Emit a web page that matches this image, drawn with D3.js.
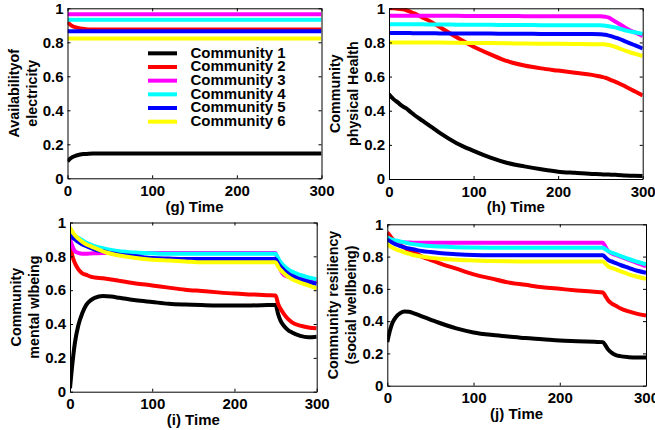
<!DOCTYPE html>
<html><head><meta charset="utf-8">
<script src="https://cdn.jsdelivr.net/npm/d3@7"></script>
<style>
html,body{margin:0;padding:0;background:#fff;}
svg{display:block;}
text{font-family:"Liberation Sans",Arial,sans-serif;font-weight:bold;fill:#000;}
</style></head>
<body>
<script>
// ---- data ----
const time = [0,3,6,10,15,20,25,30,40,50,60,80,100,120,140,160,180,200,220,240,250,253,256,260,265,270,280,290,300];
const communities = ["Community 1","Community 2","Community 3","Community 4","Community 5","Community 6"];
const colors = ["#000000","#ff0000","#ff00ff","#00ffff","#0000ff","#ffff00"];
const xTicks = [0,100,200,300];
const yTicks = [0,0.2,0.4,0.6,0.8,1];
const yTickLabels = ["0","0.2","0.4","0.6","0.8","1"];

// (g) availability of electricity
const elecC1 = [0.10,0.115,0.125,0.133,0.14,0.143,0.145,0.146,0.146,0.146,0.146,0.146,0.146,0.146,0.146,0.146,0.146,0.146,0.146,0.146,0.146,0.146,0.146,0.146,0.146,0.146,0.146,0.146,0.146];
const elecC2 = [0.92,0.905,0.895,0.888,0.882,0.878,0.876,0.875,0.875,0.875,0.875,0.875,0.875,0.875,0.875,0.875,0.875,0.875,0.875,0.875,0.875,0.875,0.875,0.875,0.875,0.875,0.875,0.875,0.875];
const elecC3 = [0.965,0.965,0.965,0.965,0.965,0.965,0.965,0.965,0.965,0.965,0.965,0.965,0.965,0.965,0.965,0.965,0.965,0.965,0.965,0.965,0.965,0.965,0.965,0.965,0.965,0.965,0.965,0.965,0.965];
const elecC4 = [0.933,0.933,0.933,0.933,0.933,0.933,0.933,0.933,0.933,0.933,0.933,0.933,0.933,0.933,0.933,0.933,0.933,0.933,0.933,0.933,0.933,0.933,0.933,0.933,0.933,0.933,0.933,0.933,0.933];
const elecC5 = [0.865,0.865,0.865,0.865,0.865,0.865,0.865,0.865,0.865,0.865,0.865,0.865,0.865,0.865,0.865,0.865,0.865,0.865,0.865,0.865,0.865,0.865,0.865,0.865,0.865,0.865,0.865,0.865,0.865];
const elecC6 = [0.822,0.822,0.822,0.822,0.822,0.822,0.822,0.822,0.822,0.822,0.822,0.822,0.822,0.822,0.822,0.822,0.822,0.822,0.822,0.822,0.822,0.822,0.822,0.822,0.822,0.822,0.822,0.822,0.822];

// (h) community physical health
const physC1 = [0.497,0.48,0.465,0.45,0.43,0.415,0.395,0.375,0.34,0.305,0.27,0.21,0.165,0.125,0.094,0.074,0.057,0.043,0.036,0.030,0.028,0.027,0.027,0.026,0.025,0.024,0.021,0.019,0.018];
const physC2 = [1.0,1.0,1.0,0.998,0.995,0.99,0.98,0.97,0.945,0.92,0.89,0.83,0.775,0.73,0.69,0.665,0.648,0.635,0.622,0.61,0.60,0.597,0.593,0.585,0.575,0.565,0.54,0.515,0.49];
const physC3 = [0.957,0.957,0.957,0.957,0.957,0.957,0.957,0.957,0.956,0.956,0.956,0.956,0.955,0.955,0.955,0.954,0.953,0.953,0.953,0.953,0.953,0.952,0.95,0.945,0.93,0.915,0.885,0.86,0.838];
const physC4 = [0.907,0.907,0.907,0.907,0.907,0.907,0.906,0.906,0.906,0.905,0.905,0.904,0.903,0.903,0.902,0.902,0.901,0.901,0.9,0.9,0.9,0.899,0.898,0.895,0.89,0.885,0.87,0.86,0.85];
const physC5 = [0.855,0.855,0.855,0.855,0.855,0.855,0.855,0.854,0.854,0.854,0.853,0.853,0.852,0.852,0.851,0.851,0.85,0.85,0.849,0.849,0.848,0.847,0.845,0.84,0.833,0.825,0.805,0.785,0.765];
const physC6 = [0.80,0.80,0.80,0.80,0.80,0.80,0.80,0.80,0.80,0.799,0.799,0.798,0.797,0.796,0.795,0.794,0.793,0.792,0.791,0.79,0.79,0.789,0.788,0.785,0.778,0.77,0.75,0.735,0.72];

// (i) community mental wellbeing
const mentC1 = [0.02,0.17,0.29,0.39,0.465,0.515,0.54,0.555,0.565,0.562,0.555,0.54,0.53,0.52,0.515,0.512,0.51,0.51,0.51,0.512,0.513,0.46,0.42,0.39,0.365,0.35,0.33,0.322,0.325];
const mentC2 = [0.88,0.80,0.76,0.725,0.70,0.69,0.68,0.675,0.67,0.663,0.655,0.64,0.628,0.615,0.603,0.595,0.587,0.58,0.575,0.57,0.568,0.52,0.49,0.46,0.43,0.41,0.39,0.38,0.375];
const mentC3 = [0.90,0.86,0.83,0.82,0.815,0.815,0.817,0.818,0.82,0.82,0.82,0.82,0.82,0.82,0.82,0.82,0.82,0.82,0.82,0.82,0.82,0.76,0.72,0.69,0.68,0.675,0.665,0.655,0.648];
const mentC4 = [0.95,0.93,0.92,0.91,0.895,0.88,0.87,0.86,0.848,0.838,0.83,0.822,0.818,0.815,0.815,0.815,0.815,0.815,0.815,0.815,0.815,0.79,0.765,0.745,0.725,0.71,0.69,0.675,0.665];
const mentC5 = [0.93,0.91,0.90,0.885,0.87,0.86,0.85,0.84,0.83,0.818,0.81,0.80,0.79,0.787,0.785,0.785,0.785,0.785,0.785,0.785,0.785,0.76,0.74,0.72,0.70,0.685,0.665,0.65,0.638];
const mentC6 = [0.97,0.945,0.925,0.905,0.885,0.87,0.86,0.85,0.83,0.815,0.805,0.79,0.78,0.775,0.77,0.765,0.765,0.765,0.765,0.765,0.765,0.74,0.72,0.70,0.68,0.665,0.645,0.628,0.61];

// (j) community resiliency (social wellbeing)
const socC1 = [0.27,0.34,0.39,0.425,0.45,0.46,0.458,0.45,0.43,0.41,0.39,0.355,0.33,0.315,0.305,0.295,0.288,0.28,0.276,0.272,0.27,0.25,0.225,0.205,0.19,0.183,0.177,0.175,0.175];
const socC2 = [0.95,0.93,0.91,0.885,0.87,0.855,0.84,0.83,0.80,0.78,0.76,0.725,0.69,0.665,0.64,0.625,0.61,0.60,0.59,0.582,0.578,0.555,0.53,0.51,0.495,0.48,0.46,0.445,0.434];
const socC3 = [0.92,0.91,0.90,0.895,0.89,0.888,0.887,0.886,0.886,0.886,0.886,0.886,0.886,0.886,0.886,0.886,0.886,0.886,0.886,0.886,0.886,0.86,0.835,0.82,0.81,0.80,0.78,0.76,0.74];
const socC4 = [0.92,0.91,0.905,0.90,0.893,0.888,0.882,0.877,0.87,0.865,0.862,0.858,0.856,0.855,0.855,0.855,0.855,0.855,0.855,0.855,0.855,0.845,0.835,0.825,0.815,0.805,0.785,0.768,0.752];
const socC5 = [0.905,0.895,0.885,0.875,0.865,0.857,0.85,0.845,0.835,0.828,0.822,0.815,0.81,0.808,0.808,0.808,0.808,0.808,0.808,0.808,0.808,0.795,0.78,0.77,0.76,0.748,0.73,0.712,0.70];
const socC6 = [0.88,0.865,0.855,0.845,0.835,0.825,0.818,0.81,0.80,0.792,0.787,0.78,0.776,0.773,0.771,0.77,0.77,0.77,0.77,0.77,0.77,0.755,0.74,0.73,0.72,0.71,0.69,0.675,0.662];

// ---- layout ----
const W = 655, H = 430;
const panels = [
  {id:"g", box:[67.5,8.3,321.5,178.3], series:[elecC1,elecC2,elecC3,elecC4,elecC5,elecC6], ylab:["Availabilityof","electricity"], xlab:"(g) Time"},
  {id:"h", box:[389,8.3,642.7,179], series:[physC1,physC2,physC3,physC4,physC5,physC6], ylab:["Community","physical Health"], xlab:"(h) Time"},
  {id:"i", box:[70,222.5,316.7,391.7], series:[mentC1,mentC2,mentC3,mentC4,mentC5,mentC6], ylab:["Community","mental wlbeing"], xlab:"(i) Time"},
  {id:"j", box:[387.3,224.3,646,385.7], series:[socC1,socC2,socC3,socC4,socC5,socC6], ylab:["Community resiliency","(social wellbeing)"], xlab:"(j) Time"}
];

const svg = d3.select("body").append("svg").attr("width",W).attr("height",H);
const FS = 15;
const FSY = 14.3;

panels.forEach(p => {
  const [L,T,R,B] = p.box;
  const x = d3.scaleLinear().domain([0,300]).range([L,R]);
  const y = d3.scaleLinear().domain([0,1]).range([B,T]);
  const g = svg.append("g");

  g.append("clipPath").attr("id","clip-"+p.id)
    .append("rect").attr("x",L).attr("y",T).attr("width",R-L).attr("height",B-T);

  const line = d3.line().x((d,i)=>x(time[i])).y(d=>y(d)).curve(d3.curveMonotoneX);
  const lg = g.append("g").attr("clip-path","url(#clip-"+p.id+")");
  p.series.forEach((s,k) => {
    lg.append("path").datum(s).attr("d",line)
      .attr("fill","none").attr("stroke",colors[k]).attr("stroke-width",4)
      .attr("stroke-linejoin","round");
  });

  // axes (ticks inward)
  g.append("g").attr("transform",`translate(0,${B})`)
    .call(d3.axisBottom(x).tickValues(xTicks).tickFormat(d3.format("d")).tickSizeInner(-3).tickSizeOuter(0).tickPadding(7));
  g.append("g").attr("transform",`translate(${L},0)`)
    .call(d3.axisLeft(y).tickValues(yTicks).tickFormat((d,i)=>yTickLabels[i]).tickSizeInner(-3).tickSizeOuter(0).tickPadding(4));
  g.append("g").attr("transform",`translate(0,${T})`)
    .call(d3.axisTop(x).tickValues(xTicks).tickFormat("").tickSizeInner(-3).tickSizeOuter(0));
  g.append("g").attr("transform",`translate(${R},0)`)
    .call(d3.axisRight(y).tickValues(yTicks).tickFormat("").tickSizeInner(-3).tickSizeOuter(0));
  g.selectAll(".domain").attr("stroke","#000").attr("stroke-width",1);
  g.selectAll(".tick line").attr("stroke","#000");
  g.selectAll(".tick text").attr("font-size",FS).attr("font-family","'Liberation Sans',Arial,sans-serif").attr("font-weight","bold").attr("fill","#000");

  // x label
  g.append("text").attr("x",(L+R)/2).attr("y",B+28).attr("dy","0.35em")
    .attr("text-anchor","middle").attr("font-size",FS).text(p.xlab);
  // y label (two lines)
  const cy = (T+B)/2;
  [54,36].forEach((off,k) => {
    g.append("text").attr("transform",`translate(${L-off},${cy}) rotate(-90)`)
      .attr("dy","0.35em").attr("text-anchor","middle").attr("font-size",FSY).text(p.ylab[k]);
  });
});

// legend in panel g
const legY = d3.scaleBand().domain(communities).range([46.5,128.5]);
const leg = svg.append("g");
communities.forEach((c,k) => {
  const yy = legY(c) + legY.bandwidth()/2;
  leg.append("line").attr("x1",148).attr("x2",177).attr("y1",yy).attr("y2",yy)
    .attr("stroke",colors[k]).attr("stroke-width",4);
  leg.append("text").attr("x",190.5).attr("y",yy-1).attr("dy","0.35em").attr("font-size",FS).text(c);
});
</script>
</body></html>
